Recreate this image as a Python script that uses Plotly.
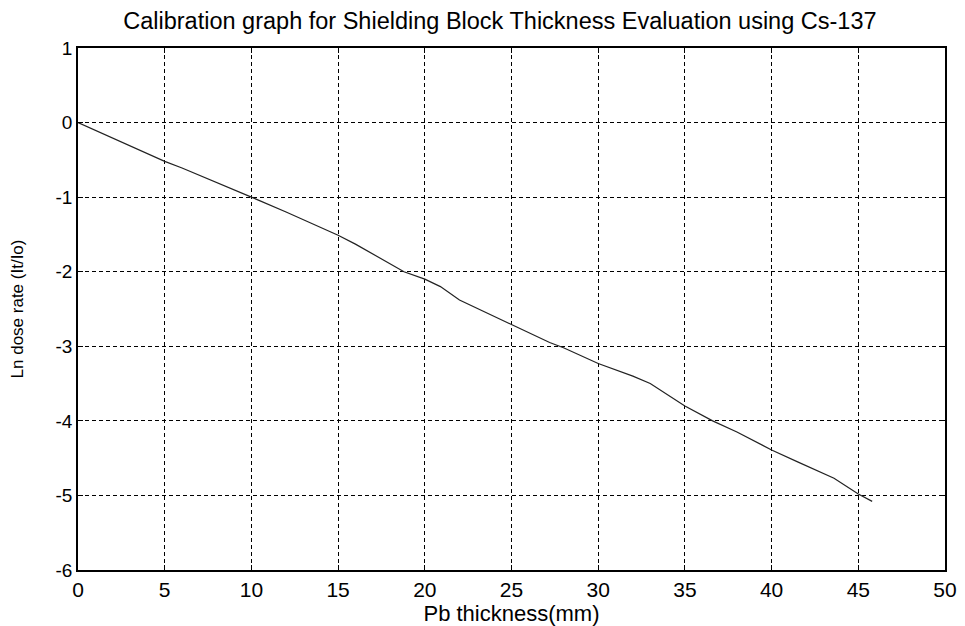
import plotly.graph_objects as go

thickness_mm = [0, 2, 3.3, 5, 6, 8, 8.4, 10, 12, 14, 15, 16, 18, 18.8, 20, 20.9, 22, 24, 25, 26, 27.2, 28,
                30, 32, 33, 35, 36.6, 38, 40, 41.5, 43.6, 45, 45.8]
ln_dose = [0, -0.21, -0.35, -0.52, -0.61, -0.8, -0.84, -1.0, -1.2, -1.4, -1.51, -1.63, -1.9, -2.0, -2.1, -2.2,
           -2.38, -2.6, -2.71, -2.82, -2.95, -3.02, -3.23, -3.4, -3.5, -3.8, -4.0, -4.15, -4.39, -4.55, -4.77,
           -4.98, -5.08]

x_ticks = [0, 5, 10, 15, 20, 25, 30, 35, 40, 45, 50]
y_ticks = [1, 0, -1, -2, -3, -4, -5, -6]

fig = go.Figure()
fig.add_trace(go.Scatter(x=thickness_mm, y=ln_dose, mode="lines",
                         line=dict(color="#222222", width=1.2), showlegend=False,
                         hoverinfo="skip"))

font_family = "Liberation Sans, Arial, sans-serif"
axis_common = dict(showline=True, linecolor="black", linewidth=1.5, mirror="ticks",
                   ticks="inside", ticklen=5, tickcolor="black",
                   showgrid=True, gridcolor="black", gridwidth=1, griddash="4px,3px",
                   zeroline=False, automargin=False)

# page body has an 8px default margin, so the figure is sized to the visible area
fig.update_layout(
    width=957, height=618,
    margin=dict(l=70, r=20, t=40, b=56),
    paper_bgcolor="white", plot_bgcolor="white",
    font=dict(family=font_family, color="black"),
    title=dict(text="Calibration graph for Shielding Block Thickness Evaluation using Cs-137",
               x=0.514, xanchor="center", y=0.979, yanchor="middle",
               font=dict(size=23.5, color="black", family=font_family)),
    xaxis=dict(range=[0, 50], tickvals=x_ticks, ticktext=[str(v) for v in x_ticks],
               tickfont=dict(size=21, color="black", family=font_family),
               title=dict(text="Pb thickness(mm)", font=dict(size=22), standoff=4),
               **axis_common),
    yaxis=dict(range=[-6, 1], tickvals=y_ticks, ticktext=[str(v) for v in y_ticks],
               tickfont=dict(size=19, color="black", family=font_family),
               title=dict(text="Ln dose rate (It/Io)", font=dict(size=17), standoff=30),
               **axis_common),
)

fig.write_html("out.html")
